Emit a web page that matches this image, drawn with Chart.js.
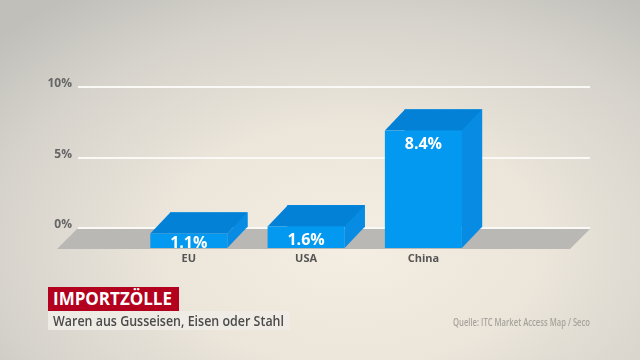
<!DOCTYPE html>
<html>
<head>
<meta charset="utf-8">
<script src="https://cdn.jsdelivr.net/npm/chart.js@4.4.1/dist/chart.umd.min.js"></script>
<style>
  html, body { margin: 0; padding: 0; }
  body {
    width: 640px; height: 360px; overflow: hidden; position: relative;
    background: radial-gradient(ellipse 75% 85% at 55% 68%, #f5eee2 0%, #ebe5da 40%, #d6d3cc 75%, #c1bfba 100%);
    font-family: "Open Sans", Roboto, sans-serif;
  }
  #wrap { position: absolute; left: 0; top: 0; width: 640px; height: 360px; }
  .box { position: absolute; overflow: hidden; white-space: nowrap; }
  .box span { display: inline-block; transform-origin: 0 50%; }
  #title { left: 48px; top: 287px; width: 131px; height: 24px; background: #b3001e; color: #fff; font-weight: 700; font-size: 17px; line-height: 24px; }
  #title span { margin-left: 5px; }
  #sub { left: 48px; top: 311px; width: 242px; height: 19px; background: rgba(240,236,229,0.9); color: #4a4a4a; font-weight: 600; font-size: 14px; line-height: 19px; }
  #sub span { margin-left: 5px; }
  #src { left: 453px; top: 315px; width: 140px; height: 15px; color: #a7a39d; font-weight: 600; font-size: 10px; line-height: 15px; }
</style>
</head>
<body>
<div id="wrap"><canvas id="c" width="640" height="360"></canvas></div>
<div class="box" id="title"><span data-w="119">IMPORTZÖLLE</span></div>
<div class="box" id="sub"><span data-w="231">Waren aus Gusseisen, Eisen oder Stahl</span></div>
<div class="box" id="src"><span data-w="137">Quelle: ITC Market Access Map / Seco</span></div>
<script>
// ---- data ----
const categories = ['EU', 'USA', 'China'];
const values = [1.1, 1.6, 8.4];
const valueLabels = ['1.1%', '1.6%', '8.4%'];
const yTicks = [0, 5, 10];

// ---- style ----
const DX = 20, DY = 21;
const FRONT = '#0399f0', TOP = '#0381d6', SIDE = '#078be3';

document.querySelectorAll('.box span').forEach(s => {
  const w = s.getBoundingClientRect().width;
  s.style.transform = 'scaleX(' + (parseFloat(s.dataset.w) / w) + ')';
});

const cubePlugin = {
  id: 'cube',
  beforeDatasetsDraw(chart) {
    const ctx = chart.ctx, a = chart.chartArea;
    const y0 = chart.scales.y.getPixelForValue(0);
    ctx.save();
    ctx.fillStyle = '#b9b8b5';
    ctx.beginPath();
    ctx.moveTo(a.left - 1, y0 + 1);
    ctx.lineTo(a.right, y0 + 1);
    ctx.lineTo(a.right - DX, y0 + DY);
    ctx.lineTo(a.left - 1 - DX, y0 + DY);
    ctx.closePath();
    ctx.fill();
    ctx.restore();
  },
  afterDatasetsDraw(chart) {
    const ctx = chart.ctx;
    const meta = chart.getDatasetMeta(0);
    ctx.save();
    meta.data.forEach((bar, i) => {
      const p = bar.getProps(['x', 'y', 'base', 'width'], true);
      const L = p.x - p.width / 2, R = p.x + p.width / 2, T = p.y, B = p.base;
      // top face
      ctx.fillStyle = TOP;
      ctx.beginPath();
      ctx.moveTo(L, T); ctx.lineTo(R, T); ctx.lineTo(R - DX, T + DY); ctx.lineTo(L - DX, T + DY);
      ctx.closePath(); ctx.fill();
      // side face
      ctx.fillStyle = SIDE;
      ctx.beginPath();
      ctx.moveTo(R, T); ctx.lineTo(R, B); ctx.lineTo(R - DX, B + DY); ctx.lineTo(R - DX, T + DY);
      ctx.closePath(); ctx.fill();
      // front face
      ctx.fillStyle = FRONT;
      ctx.fillRect(L - DX, T + DY, p.width, B - T);
      // value label
      ctx.fillStyle = '#ffffff';
      ctx.font = '700 16px "Open Sans", Roboto, sans-serif';
      ctx.textAlign = 'center';
      ctx.textBaseline = 'alphabetic';
      const baseY = Math.min(T + DY + 18.5, B + DY);
      ctx.fillText(valueLabels[i], p.x - DX, baseY);
    });
    ctx.restore();
  }
};

new Chart(document.getElementById('c'), {
  type: 'bar',
  data: {
    datasets: [{
      data: categories.map((c, i) => ({ x: i, y: values[i] })),
      backgroundColor: SIDE,
      borderWidth: 0,
      barThickness: 77
    }]
  },
  options: {
    responsive: false,
    animation: false,
    events: [],
    layout: { padding: { top: 87, bottom: 92, left: 0, right: 50 } },
    plugins: { legend: { display: false }, tooltip: { enabled: false } },
    scales: {
      x: {
        type: 'linear',
        min: -1.115,
        max: 3.25,
        offset: false,
        grid: { display: false, drawTicks: false },
        border: { display: false },
        afterFit: s => { s.height = 40; },
        afterBuildTicks: s => { s.ticks = categories.map((c, i) => ({ value: i })); },
        ticks: {
          callback: v => categories[v],
          labelOffset: -DX,
          padding: 24,
          color: '#555',
          font: { family: '"Open Sans", Roboto, sans-serif', size: 11, weight: '700' },
          maxRotation: 0
        }
      },
      y: {
        min: 0,
        max: 10,
        afterFit: s => { s.width = 78; },
        afterBuildTicks: s => { s.ticks = yTicks.map(v => ({ value: v })); },
        grid: { color: '#fbf9f5', lineWidth: 2, drawTicks: false },
        border: { display: false },
        ticks: {
          callback: v => v + '%',
          labelOffset: -3,
          padding: 6,
          color: '#666',
          font: { family: '"Open Sans", Roboto, sans-serif', size: 12, weight: '700' }
        }
      }
    }
  },
  plugins: [cubePlugin]
});
</script>
</body>
</html>
